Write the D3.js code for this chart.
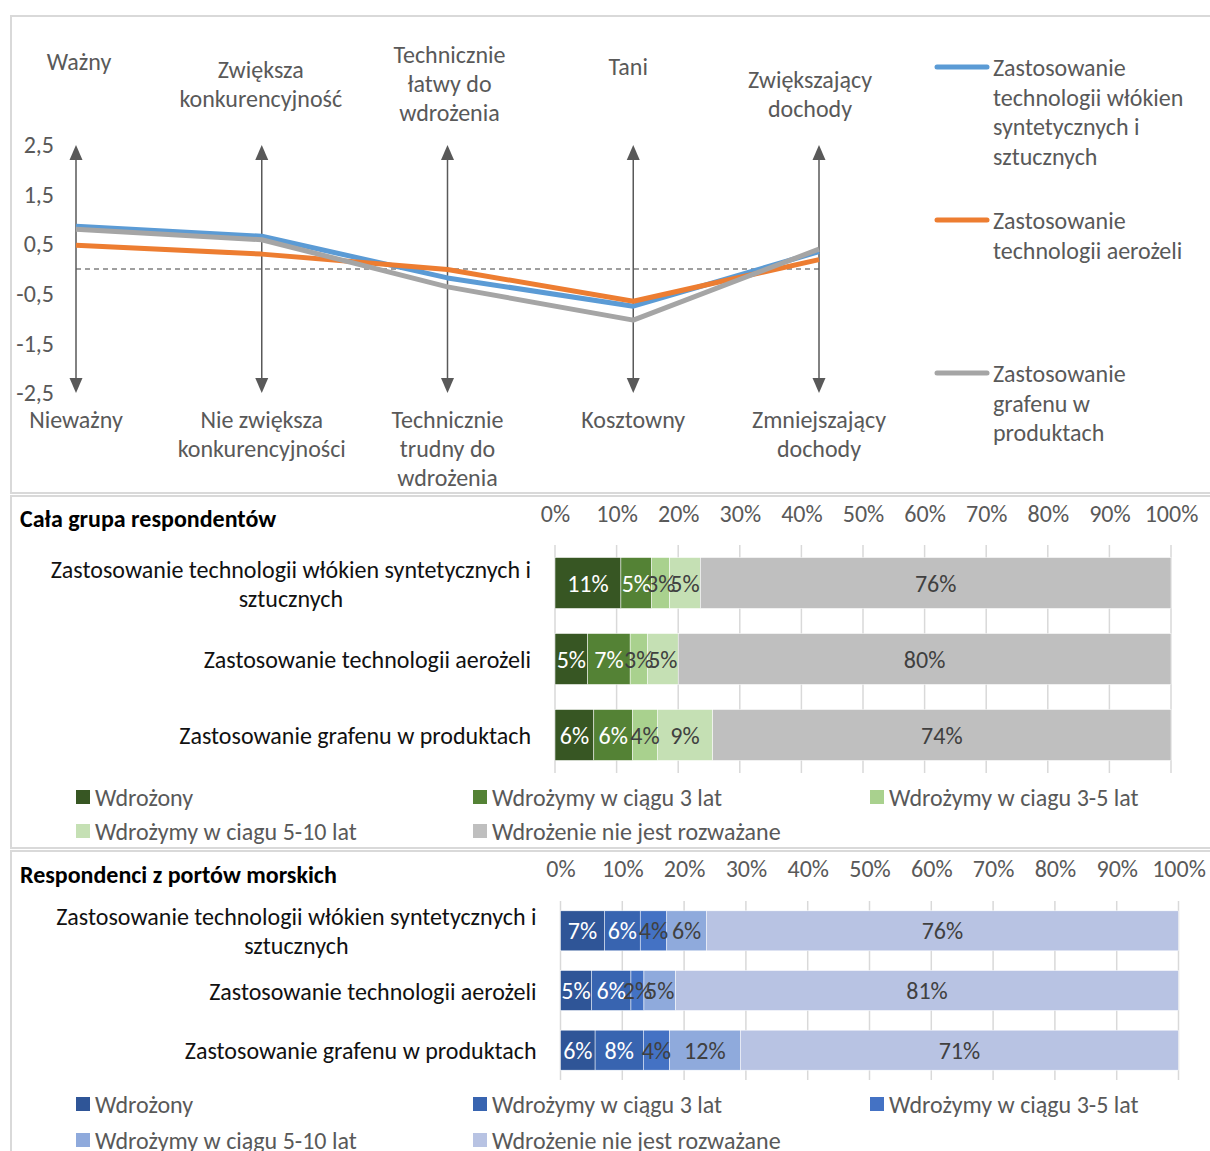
<!DOCTYPE html>
<html>
<head>
<meta charset="utf-8">
<script src="https://cdn.jsdelivr.net/npm/d3@7"></script>
<style>
	body { margin: 0; background: #fff; }
	svg text { font-family: Carlito, Calibri, Lato, sans-serif; }
</style>
</head>
<body>
<svg id="mainsvg" width="1210" height="1151"></svg>
<script>
// ---- line chart data ----
var topLabels = ["Ważny", "Zwiększa\nkonkurencyjność", "Technicznie\nłatwy do\nwdrożenia", "Tani", "Zwiększający\ndochody"];
var bottomLabels = ["Nieważny", "Nie zwiększa\nkonkurencyjności", "Technicznie\ntrudny do\nwdrożenia", "Kosztowny", "Zmniejszający\ndochody"];
var lineNames = ["Zastosowanie\ntechnologii włókien\nsyntetycznych i\nsztucznych", "Zastosowanie\ntechnologii aerożeli", "Zastosowanie\ngrafenu w\nproduktach"];
var fibreVals = [0.86, 0.66, -0.18, -0.75, 0.35];
var aerogelVals = [0.48, 0.30, -0.01, -0.65, 0.19];
var grapheneVals = [0.80, 0.59, -0.36, -1.03, 0.40];
var yTicks = [-2.5, -1.5, -0.5, 0.5, 1.5, 2.5];

// ---- bar chart data ----
var barCats = ["Zastosowanie technologii włókien syntetycznych i\nsztucznych", "Zastosowanie technologii aerożeli", "Zastosowanie grafenu w produktach"];
var stagesAll = ["Wdrożony", "Wdrożymy w ciągu 3 lat", "Wdrożymy w ciagu 3-5 lat", "Wdrożymy w ciagu 5-10 lat", "Wdrożenie nie jest rozważane"];
var stagesPorts = ["Wdrożony", "Wdrożymy w ciągu 3 lat", "Wdrożymy w ciągu 3-5 lat", "Wdrożymy w ciągu 5-10 lat", "Wdrożenie nie jest rozważane"];
// whole group, one array per stage (over barCats)
var allDone = [10.7, 5.3, 6.3];
var all3 = [5.0, 6.9, 6.3];
var all35 = [2.9, 2.8, 4.0];
var all510 = [5.0, 5.0, 9.0];
var allNo = [76.4, 80.0, 74.4];
// sea ports
var portDone = [7.1, 5.0, 5.6];
var port3 = [5.8, 6.4, 7.8];
var port35 = [4.3, 2.1, 4.2];
var port510 = [6.4, 5.1, 11.5];
var portNo = [76.4, 81.4, 70.9];
var pctTicks = [0, 10, 20, 30, 40, 50, 60, 70, 80, 90, 100];

var svg = d3.select("#mainsvg");
var gridCol = "#d9d9d9";
var textCol = "#595959";
var fs = "24px";

// panel frames
svg.append("rect").attr("x", 11).attr("y", 16).attr("width", 1215).attr("height", 477)
	.attr("fill", "none").attr("stroke", gridCol).attr("stroke-width", 2);
svg.append("rect").attr("x", 11).attr("y", 496).attr("width", 1215).attr("height", 352)
	.attr("fill", "none").attr("stroke", gridCol).attr("stroke-width", 2);
svg.append("rect").attr("x", 11).attr("y", 851).attr("width", 1215).attr("height", 320)
	.attr("fill", "none").attr("stroke", gridCol).attr("stroke-width", 2);

function multiline(sel, str, lh) {
	str.split("\n").forEach(function(s, i) {
		sel.append("tspan").attr("x", sel.attr("x")).attr("dy", i == 0 ? 0 : lh).text(s);
	});
}

// ================= line chart =================
var x = d3.scalePoint().domain(d3.range(5)).range([76, 819]);
var y = d3.scaleLinear().domain([-2.5, 2.5]).range([393, 145]);

var yAxis = svg.append("g").attr("transform", "translate(57,0)")
	.call(d3.axisLeft(y).tickValues(yTicks).tickSize(0).tickPadding(3)
		.tickFormat(function(d) { return d3.format(".1f")(d).replace(".", ",").replace("−", "-"); }));
yAxis.select(".domain").remove();
yAxis.selectAll("text").attr("fill", textCol).style("font-size", fs)
	.style("font-family", "Carlito, Calibri, Lato, sans-serif");

// zero line
svg.append("line").attr("x1", x(0)).attr("x2", x(4)).attr("y1", y(0)).attr("y2", y(0))
	.attr("stroke", "#808080").attr("stroke-width", 1.5).attr("stroke-dasharray", "5,4");

// double arrows
var arrows = svg.append("g").attr("class", "arrows");
d3.range(5).forEach(function(i) {
	var cx = x(i);
	arrows.append("line").attr("x1", cx).attr("x2", cx).attr("y1", y(2.5) + 10).attr("y2", y(-2.5) - 10)
		.attr("stroke", "#595959").attr("stroke-width", 1.5);
	arrows.append("path").attr("d", "M" + cx + "," + y(2.5) + "l-6.5,15h13z").attr("fill", "#595959");
	arrows.append("path").attr("d", "M" + cx + "," + y(-2.5) + "l-6.5,-15h13z").attr("fill", "#595959");
});

var lineColors = ["#5b9bd5", "#ed7d31", "#a5a5a5"];
var lineSeries = [fibreVals, aerogelVals, grapheneVals];
var lineGen = d3.line().x(function(d, i) { return x(i); }).y(function(d) { return y(d); });
svg.append("g").selectAll("path").data(lineSeries).enter().append("path")
	.attr("d", lineGen).attr("fill", "none")
	.attr("stroke", function(d, i) { return lineColors[i]; })
	.attr("stroke-width", 5).attr("stroke-linejoin", "round");

// category labels
var topY = [61, 69, 54, 66, 79];
var topDx = [3, -1, 2, -5, -9];
topLabels.forEach(function(s, i) {
	var t = svg.append("text").attr("x", x(i) + topDx[i]).attr("y", topY[i])
		.attr("text-anchor", "middle").attr("dominant-baseline", "central")
		.attr("fill", textCol).style("font-size", fs);
	multiline(t, s, 29);
});
bottomLabels.forEach(function(s, i) {
	var t = svg.append("text").attr("x", x(i)).attr("y", 419)
		.attr("text-anchor", "middle").attr("dominant-baseline", "central")
		.attr("fill", textCol).style("font-size", fs);
	multiline(t, s, 29);
});

// line legend
var legY = [67, 220, 373];
lineNames.forEach(function(s, i) {
	svg.append("line").attr("x1", 937).attr("x2", 987).attr("y1", legY[i]).attr("y2", legY[i])
		.attr("stroke", lineColors[i]).attr("stroke-width", 5).attr("stroke-linecap", "round");
	var t = svg.append("text").attr("x", 993).attr("y", legY[i]).attr("dominant-baseline", "central")
		.attr("fill", textCol).style("font-size", fs);
	multiline(t, s, 29.5);
});

// ================= stacked bars =================
function stackedPanel(opt) {
	var g = svg.append("g");
	var rows = opt.cats.map(function(c, j) {
		var r = { cat: c };
		opt.series.forEach(function(s, k) { r[k] = s[j]; });
		return r;
	});
	var keys = d3.range(opt.series.length);
	var stacked = d3.stack().keys(keys)(rows);

	var xs = d3.scaleLinear().domain([0, 100]).range(opt.xRange);
	var ys = d3.scaleBand().domain(opt.cats).range(opt.yRange).paddingInner(0.33).paddingOuter(0.165);

	// title
	g.append("text").attr("x", 20).attr("y", opt.titleY).attr("dominant-baseline", "central")
		.attr("fill", "#000").style("font-size", fs).style("font-weight", "bold").text(opt.title);

	// gridlines
	g.append("g").selectAll("line").data(pctTicks).enter().append("line")
		.attr("x1", function(d) { return xs(d); }).attr("x2", function(d) { return xs(d); })
		.attr("y1", opt.yRange[0]).attr("y2", opt.yRange[1])
		.attr("stroke", gridCol).attr("stroke-width", 1.5);

	// top axis
	var ax = g.append("g").attr("transform", "translate(0," + (opt.tickY + 8) + ")")
		.call(d3.axisTop(xs).tickValues(pctTicks).tickSize(0).tickPadding(0)
			.tickFormat(function(d) { return d + "%"; }));
	ax.select(".domain").remove();
	ax.selectAll("text").attr("fill", textCol).style("font-size", fs)
		.style("font-family", "Carlito, Calibri, Lato, sans-serif");

	// bars
	var layer = g.append("g").selectAll("g").data(stacked).enter().append("g")
		.attr("fill", function(d, k) { return opt.colors[k]; });
	layer.selectAll("rect").data(function(d) { return d; }).enter().append("rect")
		.attr("x", function(d) { return xs(d[0]); })
		.attr("width", function(d) { return xs(d[1]) - xs(d[0]); })
		.attr("y", function(d) { return ys(d.data.cat); })
		.attr("height", ys.bandwidth())
		.attr("stroke", "#fff").attr("stroke-width", 0.5);

	// value labels
	var lab = g.append("g").selectAll("g").data(stacked).enter().append("g");
	lab.selectAll("text").data(function(d, k) { return d.map(function(p) { p.k = k; return p; }); })
		.enter().append("text")
		.attr("x", function(d) { return (xs(d[0]) + xs(d[1])) / 2; })
		.attr("y", function(d) { return ys(d.data.cat) + ys.bandwidth() / 2; })
		.attr("text-anchor", "middle").attr("dominant-baseline", "central")
		.attr("fill", function(d) { return d.k < 2 ? "#fff" : "#404040"; })
		.style("font-size", fs)
		.text(function(d) { return Math.round(d[1] - d[0]) + "%"; });

	// category labels (block right-aligned, lines centred)
	opt.cats.forEach(function(c) {
		var lines = c.split("\n");
		var cy = ys(c) + ys.bandwidth() / 2 - (lines.length - 1) * 14.5;
		var t = g.append("text").attr("y", cy).attr("text-anchor", "middle")
			.attr("dominant-baseline", "central").attr("fill", "#111").style("font-size", fs);
		var spans = lines.map(function(s, i) {
			return t.append("tspan").attr("dy", i == 0 ? 0 : 29).text(s);
		});
		var w = d3.max(spans, function(s) { return s.node().getComputedTextLength(); });
		var cx = opt.xRange[0] - 24 - w / 2;
		spans.forEach(function(s) { s.attr("x", cx); });
	});

	// legend
	var legX = [76, 473, 870];
	opt.stages.forEach(function(s, k) {
		var lx = legX[k % 3], ly = opt.legY[Math.floor(k / 3)];
		g.append("rect").attr("x", lx).attr("y", ly - 7).attr("width", 14).attr("height", 14)
			.attr("fill", opt.colors[k]);
		g.append("text").attr("x", lx + 19).attr("y", ly).attr("dominant-baseline", "central")
			.attr("fill", textCol).style("font-size", fs).text(s);
	});
}

stackedPanel({
	title: "Cała grupa respondentów", titleY: 518, tickY: 514,
	cats: barCats, stages: stagesAll,
	series: [allDone, all3, all35, all510, allNo],
	colors: ["#375623", "#548235", "#a9d18e", "#c5e0b4", "#bfbfbf"],
	xRange: [555, 1171], yRange: [545, 773], legY: [797, 831]
});
stackedPanel({
	title: "Respondenci z portów morskich", titleY: 874, tickY: 869,
	cats: barCats, stages: stagesPorts,
	series: [portDone, port3, port35, port510, portNo],
	colors: ["#2f5597", "#3864b0", "#4472c4", "#8faadc", "#b8c3e3"],
	xRange: [560.5, 1178.5], yRange: [901, 1080], legY: [1104, 1140]
});
</script>
</body>
</html>
